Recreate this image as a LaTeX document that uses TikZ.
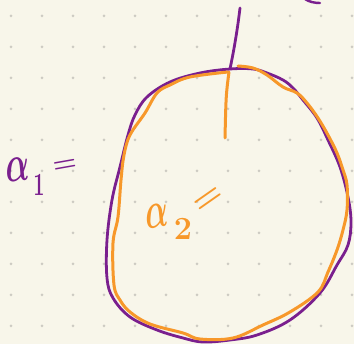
\documentclass[tikz,border=0pt]{standalone}
\usepackage{amsmath,amssymb}
\usepackage{xcolor}
\definecolor{paper}{HTML}{F8F6EA}
\definecolor{griddot}{HTML}{CDCBC3}
\definecolor{penpurple}{HTML}{7A1F8E}
\definecolor{penorange}{HTML}{F7982A}
\tikzset{
	purplepen/.style={draw=penpurple, line width=2.8pt, line cap=round, line join=round},
	orangepen/.style={draw=penorange, line width=3pt, line cap=round, line join=round},
	scribble/.style={font=\Huge\boldmath, inner sep=0pt}
}
\begin{document}
\begin{tikzpicture}[x=1pt, y=-1pt]
	\fill [paper] (0,0) rectangle (354,344);
	\useasboundingbox (0,0) rectangle (354,344);
	\clip (0,0) rectangle (354,344);
	
	% dot grid
	\foreach \i in {0,...,11}
	{
		\foreach \j in {0,...,10}
		{
			\fill [griddot] (11+31*\i,16+31*\j) circle (1.5);
		}
	}
	
	\coordinate (top) at (230,69);
	\coordinate (stemend) at (240,8);
	\coordinate (orangetop) at (229,72);
	\coordinate (orangeend) at (225,138);
	
	% outer curve
	\draw [purplepen] plot [smooth cycle, tension=0.6] coordinates {
		(230,69) (253,69) (267,73) (283,80) (293,88) (303,100) (317,118) (328,140)
		(340,167) (348,197) (351,222) (348,245) (337,265) (320,293) (290,320)
		(257,335) (230,340) (203,342) (183,338) (157,330) (130,317) (113,298)
		(107,278) (107,240) (112,200) (120,167) (128,135) (135,115) (147,97)
		(170,82) (200,73)
	};
	\draw [purplepen] (top) .. controls (235,45) and (238,25) .. (stemend);
	\draw [purplepen, line width=2.4pt] (305,-1) .. controls (309,2) and (315,3) .. (320,3);
	
	% inner curve
	\draw [orangepen] plot [smooth, tension=0.6] coordinates {
		(238,66) (253,68) (267,75) (283,87) (297,93) (307,103) (318,118) (328,135)
		(337,153) (343,170) (347,185) (347,210) (343,230) (337,250) (328,272)
		(318,292) (290,312) (263,325) (233,338) (200,339) (183,333) (150,324)
		(130,312) (120,300) (114,285) (113,243) (118,217) (121,180) (124,155)
		(130,135) (145,113) (157,93) (170,85) (190,77) (228,72)
	};
	\draw [orangepen] (orangetop) .. controls (226,95) .. (orangeend);
	
	% labels
	\node [scribble, text=penpurple, anchor=south west, xscale=1.25, yscale=2.1, rotate=4] (alphaone) at (6,183) {$\alpha$};
	\node [scribble, text=penpurple, xscale=0.8, yscale=1.3] (subone) at (39,185) {$1$};
	\node [scribble, text=penpurple, scale=1.1, rotate=10] (eqone) at (65,166) {$=$};
	
	\node [scribble, text=penorange, anchor=south west, xscale=1.2, yscale=2.1, rotate=6] (alphatwo) at (146,230) {$\alpha$};
	\node [scribble, text=penorange, scale=1.3] (subtwo) at (183,229) {$2$};
	\node [scribble, text=penorange, scale=1.4, rotate=35] (eqtwo) at (209,200) {$=$};
\end{tikzpicture}
\end{document}
